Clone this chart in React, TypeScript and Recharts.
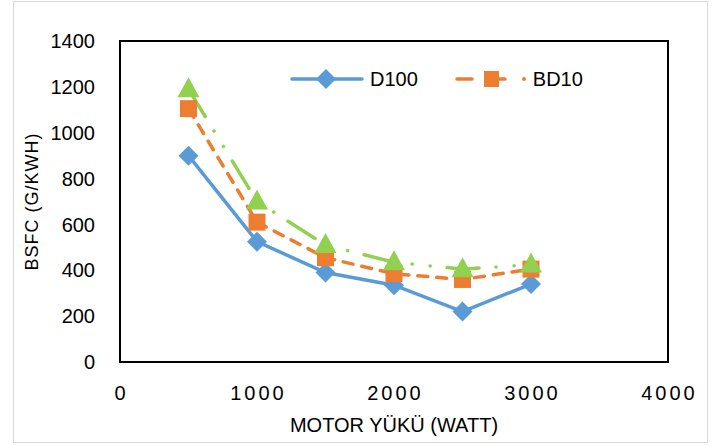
import { LineChart, Line, XAxis, YAxis, ReferenceArea, Legend } from "recharts"

const loads = [500, 1000, 1500, 2000, 2500, 3000]
const d100 = [900, 525, 390, 335, 220, 340]
const bd10 = [1105, 610, 455, 385, 360, 405]
const bd20 = [1190, 700, 510, 435, 405, 425]
const xTicks = [0, 1000, 2000, 3000, 4000]
const yTicks = [0, 200, 400, 600, 800, 1000, 1200, 1400]

const C = {
  d100: "#5B9BD5",
  bd10: "#ED7D31",
  bd20: "#92D050",
}

const FONT = "'Liberation Sans', Arial, sans-serif"

const data = loads.map((x, i) => ({ x, d100: d100[i], bd10: bd10[i], bd20: bd20[i] }))

function Diamond({ cx, cy }: any) {
  if (cx == null || cy == null) return null
  const r = 10
  return <path d={`M${cx},${cy - r}L${cx + r},${cy}L${cx},${cy + r}L${cx - r},${cy}Z`} fill={C.d100} />
}

function Square({ cx, cy }: any) {
  if (cx == null || cy == null) return null
  return <rect x={cx - 8.5} y={cy - 8.5} width={17} height={17} fill={C.bd10} />
}

function Triangle({ cx, cy }: any) {
  if (cx == null || cy == null) return null
  return <path d={`M${cx},${cy - 12}L${cx + 11},${cy + 8}L${cx - 11},${cy + 8}Z`} fill={C.bd20} />
}

function LegendBox() {
  return (
    <div style={{ display: "flex", alignItems: "center", fontFamily: FONT, fontSize: 20, color: "#000", lineHeight: "22px" }}>
      <svg width={74} height={20}>
        <line x1={2} x2={72} y1={10} y2={10} stroke={C.d100} strokeWidth={3.5} strokeLinecap="round" />
        <path d="M36,0L46,10L36,20L26,10Z" fill={C.d100} />
      </svg>
      <span style={{ marginLeft: 6 }}>D100</span>
      <svg width={76} height={20} style={{ marginLeft: 36 }}>
        <line x1={3} x2={18} y1={10} y2={10} stroke={C.bd10} strokeWidth={3.5} strokeLinecap="round" />
        <rect x={30} y={2} width={15} height={16} fill={C.bd10} />
        <line x1={45} x2={51} y1={10} y2={10} stroke={C.bd10} strokeWidth={3.5} strokeLinecap="round" />
        <circle cx={70} cy={10} r={2} fill={C.bd10} />
      </svg>
      <span style={{ marginLeft: 3 }}>BD10</span>
    </div>
  )
}

function YTitle({ viewBox }: any) {
  const x = viewBox.x + 38
  const y = viewBox.y + viewBox.height / 2
  return (
    <text x={x} y={y} transform={`rotate(-90 ${x} ${y})`} textAnchor="middle"
      fontFamily={FONT} fontSize={18} letterSpacing={1} fill="#000">
      BSFC (G/KWH)
    </text>
  )
}

function XTitle({ viewBox }: any) {
  const x = viewBox.x + viewBox.width / 2
  const y = viewBox.y + 70
  return (
    <text x={x} y={y} textAnchor="middle" fontFamily={FONT} fontSize={20} fill="#000">
      MOTOR YÜKÜ (WATT)
    </text>
  )
}

export default function App() {
  return (
    <div style={{ position: "absolute", left: 0, top: 0, width: 716, height: 446, background: "#fff" }}>
      <div style={{ position: "absolute", left: 13, top: 1, width: 695, height: 442, border: "1px solid #d9d9d9", boxSizing: "border-box" }} />
      <LineChart width={716} height={446} data={data} margin={{ top: 41, right: 48, bottom: 0, left: 0 }}>
        <XAxis
          dataKey="x"
          type="number"
          domain={[0, 4000]}
          ticks={xTicks}
          height={84}
          tickLine={false}
          axisLine={false}
          tickSize={0}
          tickMargin={24}
          tick={{ fontSize: 20, fill: "#000", fontFamily: FONT, letterSpacing: 3, dx: 1.5 }}
          label={<XTitle />}
        />
        <YAxis
          type="number"
          domain={[0, 1400]}
          ticks={yTicks}
          width={120}
          tickLine={false}
          axisLine={false}
          tickSize={0}
          tickMargin={25}
          tick={{ fontSize: 20, fill: "#000", fontFamily: FONT }}
          label={<YTitle />}
        />
        <ReferenceArea x1={0} x2={4000} y1={0} y2={1400} fill="none" stroke="#000" strokeWidth={2} />
        <Legend
          layout="vertical"
          align="center"
          verticalAlign="middle"
          content={<LegendBox />}
          wrapperStyle={{ left: 290, top: 68, width: 340, height: 22 }}
        />
        <Line dataKey="d100" name="D100" stroke={C.d100} strokeWidth={3.5} dot={<Diamond />} activeDot={false} isAnimationActive={false} />
        <Line dataKey="bd10" name="BD10" stroke={C.bd10} strokeWidth={3.5} strokeDasharray="10 9" strokeLinecap="round" dot={<Square />} activeDot={false} isAnimationActive={false} />
        <Line dataKey="bd20" name="BD20" stroke={C.bd20} strokeWidth={3.5} strokeDasharray="32 17 0.1 18 0.1 17" strokeLinecap="round" dot={<Triangle />} activeDot={false} legendType="none" isAnimationActive={false} />
      </LineChart>
    </div>
  )
}
